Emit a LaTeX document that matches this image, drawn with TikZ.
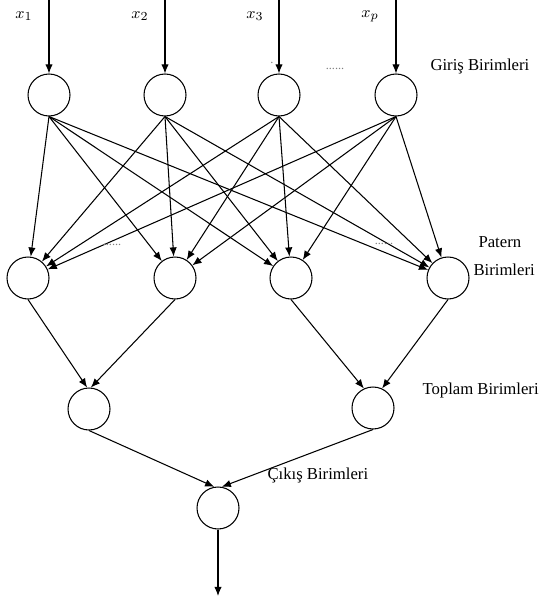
\documentclass[tikz,border=0pt]{standalone}
\usepackage{fontspec}
\setmainfont{Liberation Serif}
\usetikzlibrary{arrows.meta}

\tikzset{
  birim/.style={draw, circle, minimum size=0.84cm, inner sep=0pt},
  etiket/.style={font=\fontsize{9.5}{11}\selectfont, inner sep=0pt},
  nokta/.style={font=\fontsize{7}{8}\selectfont, text=gray, inner sep=0pt},
}

\begin{document}
\begin{tikzpicture}[x=0.02cm, y=-0.02cm, line width=0.6pt, >={Latex[length=5.2pt,width=4.2pt]}]
    \useasboundingbox (0,0) rectangle (545,598);

    % Giriş birimleri
    \node[birim] (g1) at (49,95) {};
    \node[birim] (g2) at (165,95) {};
    \node[birim] (g3) at (279,95) {};
    \node[birim] (g4) at (396,95) {};

    \coordinate (x1) at (49,0);
    \coordinate (x2) at (165,0);
    \coordinate (x3) at (279,0);
    \coordinate (x4) at (396,0);

    \draw[->] (x1) -- (g1);
    \draw[->] (x2) -- (g2);
    \draw[->] (x3) -- (g3);
    \draw[->] (x4) -- (g4);

    \node[etiket] (lx1) at (24,16) {$x_1$};
    \node[etiket] (lx2) at (140,16) {$x_2$};
    \node[etiket] (lx3) at (255,16) {$x_3$};
    \node[etiket] (lx4) at (370,16) {$x_p$};

    \node[nokta] (ng) at (335,69) {......};
    \node[nokta] (ng0) at (272,63) {.};
    \node[etiket, anchor=west] (giris) at (430,66) {Giriş Birimleri};

    % Patern birimleri
    \node[birim] (p1) at (28,278) {};
    \node[birim] (p2) at (175,278) {};
    \node[birim] (p3) at (291,278) {};
    \node[birim] (p4) at (448,278) {};

    \draw[->] (g1.south) -- (p1);
    \draw[->] (g1.south) -- (p2);
    \draw[->] (g1.south) -- (p3);
    \draw[->] (g1.south) -- (p4);
    \draw[->] (g2.south) -- (p1);
    \draw[->] (g2.south) -- (p2);
    \draw[->] (g2.south) -- (p3);
    \draw[->] (g2.south) -- (p4);
    \draw[->] (g3.south) -- (p1);
    \draw[->] (g3.south) -- (p2);
    \draw[->] (g3.south) -- (p3);
    \draw[->] (g3.south) -- (p4);
    \draw[->] (g4.south) -- (p1);
    \draw[->] (g4.south) -- (p2);
    \draw[->] (g4.south) -- (p3);
    \draw[->] (g4.south) -- (p4);

    \node[nokta] (np1) at (112,245) {......};
    \node[nokta] (np2) at (384,244) {......};
    \node[etiket, anchor=west] (patern) at (478,242) {Patern};
    \node[etiket, anchor=west] (patern2) at (473,270) {Birimleri};

    % Toplam birimleri
    \node[birim] (t1) at (89,409) {};
    \node[birim] (t2) at (373,408) {};

    \draw[->] (p1.south) -- (t1.95);
    \draw[->] (p2.south) -- (t1.85);
    \draw[->] (p3.south) -- (t2.115);
    \draw[->] (p4.south) -- (t2.65);

    \node[etiket, anchor=west] (toplam) at (422,390) {Toplam Birimleri};

    % Çıkış birimi
    \node[birim] (c1) at (218,508) {};
    \coordinate (cikis) at (218,596);

    \draw[->] (t1.south) -- (c1.100);
    \draw[->] (t2.south) -- (c1.80);
    \draw[->] (c1) -- (cikis);

    \node[etiket, anchor=west] (cikisyazi) at (267,475) {Çıkış Birimleri};
\end{tikzpicture}
\end{document}
